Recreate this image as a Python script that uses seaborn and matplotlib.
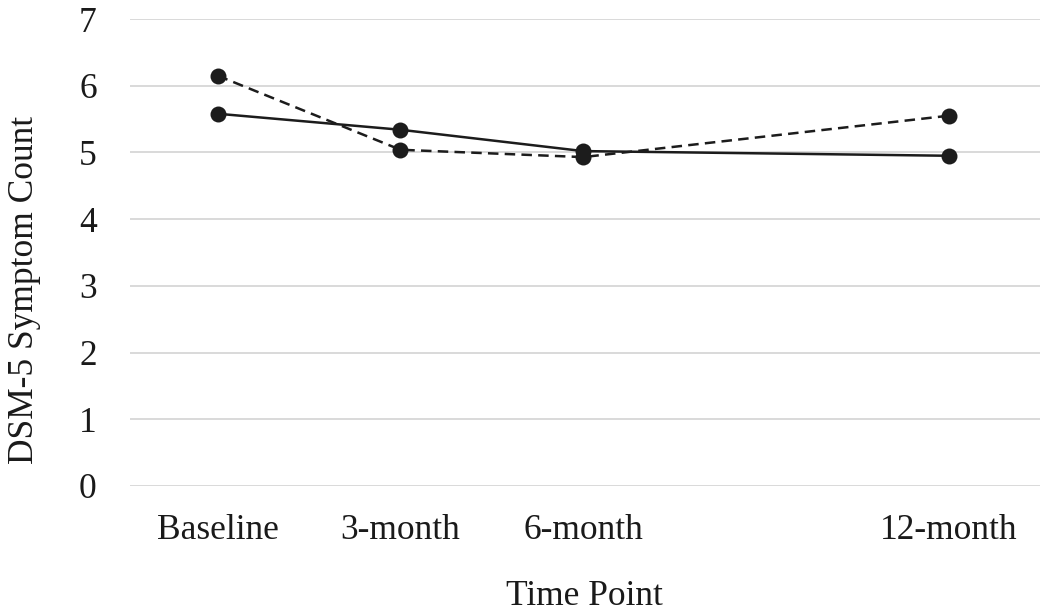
import numpy as np
import pandas as pd
import matplotlib
matplotlib.use('Agg')
import matplotlib.pyplot as plt
import seaborn as sns

# values
months = [0, 3, 6, 12]
time_labels = ['Baseline', '3-month', '6-month', '12-month']
solid_counts = [5.58, 5.34, 5.02, 4.95]
dashed_counts = [6.15, 5.04, 4.93, 5.55]

df = pd.DataFrame({
    'month': months * 2,
    'count': solid_counts + dashed_counts,
    'group': ['solid'] * 4 + ['dashed'] * 4,
})

sns.set_style('white')
plt.rcParams['font.family'] = ['Liberation Serif', 'DejaVu Serif']

fig = plt.figure(figsize=(10.5, 6.14), dpi=100)
ax = fig.add_axes([130 / 1050, 1 - 486 / 614, 910 / 1050, 467 / 614])

sns.lineplot(data=df, x='month', y='count', style='group',
             dashes={'solid': '', 'dashed': (4.2, 2.5)},
             markers={'solid': 'o', 'dashed': 'o'},
             color='#1c1c1c', markersize=11.5, markeredgewidth=0,
             linewidth=1.8, legend=False, ax=ax)

ax.set_ylim(0, 7)
ax.set_xlim(-1.44, 13.5)
ax.set_yticks(range(0, 8))
ax.set_xticks(months)
ax.set_xticklabels(time_labels)
ax.yaxis.grid(True, color='#d9d9d9', linewidth=1.4)
ax.set_axisbelow(True)
for s in ax.spines.values():
    s.set_visible(False)
ax.tick_params(axis='both', length=0, labelsize=25.5, colors='#1a1a1a')
ax.tick_params(axis='x', pad=20)
ax.tick_params(axis='y', pad=24)

ax.set_xlabel('Time Point', fontsize=25.5, color='#1a1a1a', va='baseline')
ax.xaxis.set_label_coords(0.499, (486 - 605) / 467)
ax.set_ylabel('DSM-5 Symptom Count', fontsize=25.5, color='#1a1a1a')
ax.yaxis.set_label_coords((41 - 130) / 910, (486 - 290) / 467)

fig.savefig('out.png', dpi=100)
